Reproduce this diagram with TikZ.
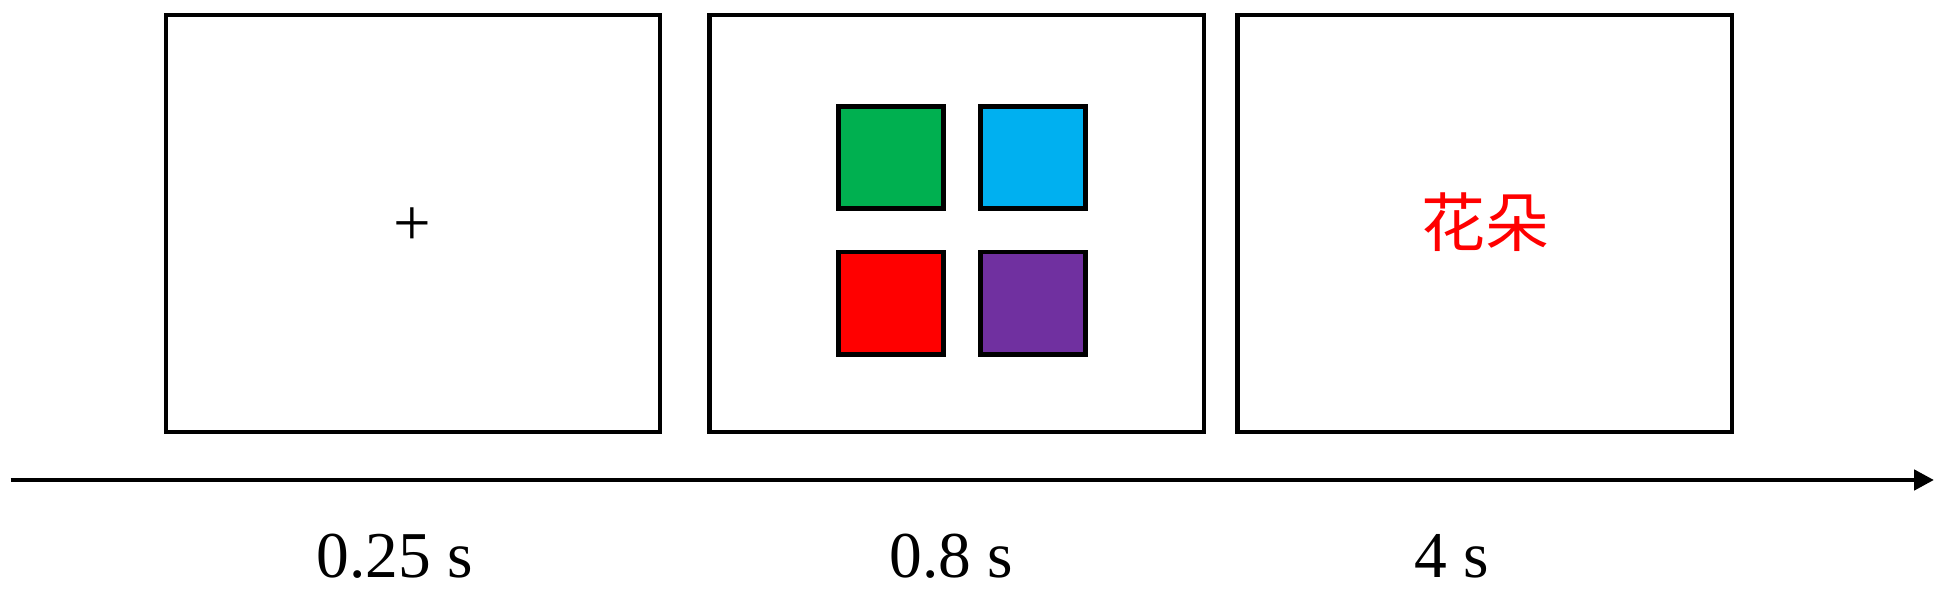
\documentclass[tikz,border=0pt]{standalone}
\usepackage{fontspec}
\setmainfont{Liberation Serif}
\newfontfamily\cjk{Noto Sans CJK SC}
\usetikzlibrary{arrows.meta}
\usetikzlibrary{positioning}

\definecolor{sqGreen}{HTML}{00B050}
\definecolor{sqBlue}{HTML}{00B0F0}
\definecolor{sqRed}{HTML}{FF0000}
\definecolor{sqPurple}{HTML}{7030A0}

\tikzset{
  screen/.style={draw, line width=1.25pt, minimum width=4.94cm, minimum height=4.17cm, inner sep=0pt},
  colorSquare/.style={draw, line width=1.3pt, minimum width=1.05cm, minimum height=1.02cm, inner sep=0pt, fill=#1},
  timeLabel/.style={anchor=base, font=\fontsize{18.6}{21}\selectfont},
}

\begin{document}
\begin{tikzpicture}[x=0.01cm, y=-0.01cm]
\useasboundingbox (0,0) rectangle (1945,592);

\node[screen] (Fixation) at (413,223.5) {};
\node[screen] (Colors) at (956.6,223.5) {};
\node[screen] (Word) at (1484.7,223.5) {};

\node[font=\fontsize{19}{21}\selectfont] (Cross) at (412.5,227) {+};

\node[colorSquare=sqGreen] (GreenSq) at (891,157.6) {};
\node[colorSquare=sqBlue] (BlueSq) at (1033,157.6) {};
\node[colorSquare=sqRed] (RedSq) at (891,303.2) {};
\node[colorSquare=sqPurple] (PurpleSq) at (1033,303.2) {};

\node[text=red, font=\cjk\fontsize{18.2}{20}\selectfont] (Flower) at (1485,222) {花朵};

\coordinate (TimeStart) at (10.7,480);
\coordinate (TimeEnd) at (1934,480);
\draw[line width=1.35pt, -{Triangle[length=0.2cm, width=0.2cm]}] (TimeStart) -- (TimeEnd);

\node[timeLabel] (FixTime) at (394.6,578) {0.25 s};
\node[timeLabel] (ColorTime) at (951.6,578) {0.8 s};
\node[timeLabel] (WordTime) at (1452,578) {4 s};

\end{tikzpicture}
\end{document}
